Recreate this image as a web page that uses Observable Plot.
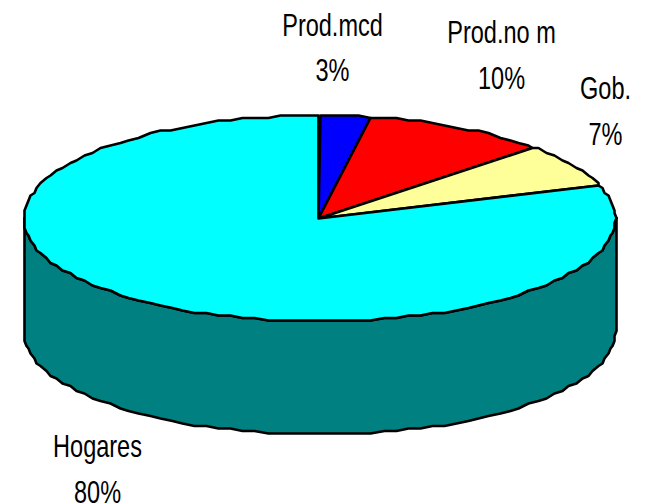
<!DOCTYPE html>
<html><head><meta charset="utf-8">
<script src="https://cdn.jsdelivr.net/npm/d3@7"></script>
<script src="https://cdn.jsdelivr.net/npm/@observablehq/plot@0.6"></script>
<style>html,body{margin:0;padding:0;background:#fff}svg{display:block}</style>
</head><body><div id="c"></div>
<script>
const categories = ["Prod.mcd", "Prod.no m", "Gob.", "Hogares"];
const shares = [2.8, 10, 6.9, 80.3];
const colors = ["#0000ff", "#ff0000", "#ffff99", "#00ffff"];
const sideColor = "#008080";

// layout of the tilted disc, in page units
const cx = 319, cy = 218, rx = 296, ry = 103, depth = 113;
const labelX = [332, 501, 605, 97];
const labelY = [43.5, 51, 107, 465];

const snap = (v, s) => Math.round(v / s) * s;
const pt = (t, dy = 0) => ({
  x: snap(cx + rx * Math.sin(t), 2),
  y: snap(cy - ry * Math.cos(t), 2.5) + dy
});
const step = Math.PI / 72;
function arc(a, b, dy = 0) {
  const out = [pt(a, dy)];
  const dir = b > a ? 1 : -1;
  let k = dir > 0 ? Math.floor(a / step + 1e-6) + 1 : Math.ceil(a / step - 1e-6) - 1;
  while (dir > 0 ? k * step < b - 1e-6 : k * step > b + 1e-6) { out.push(pt(k * step, dy)); k += dir; }
  out.push(pt(b, dy));
  return out;
}

let cum = 0;
const slicePts = [];
shares.forEach((v, i) => {
  const a = cum / 100 * 2 * Math.PI; cum += v;
  const b = cum / 100 * 2 * Math.PI;
  const c = {x: 318, y: cy};
  [c, ...arc(a, b), c].forEach(p => slicePts.push({...p, slice: categories[i]}));
});

const PI = Math.PI;
const sidePts = [
  ...arc(PI / 2, 3 * PI / 2),
  ...arc(3 * PI / 2, PI / 2, depth)
];
sidePts.push(sidePts[0]);

const labels = categories.map((c, i) => ({
  text: `${c}\n${Math.round(shares[i])}%`, x: labelX[i], y: labelY[i]
}));

const chart = Plot.plot({
  width: 646, height: 504,
  margin: 0,
  x: {domain: [0, 646], range: [0, 646], axis: null},
  y: {domain: [0, 504], range: [0, 504], axis: null},
  color: {domain: categories, range: colors},
  style: {background: "#fff", overflow: "visible"},
  marks: [
    Plot.line(sidePts, {x: "x", y: "y", fill: sideColor, stroke: "#000", strokeWidth: 2.6, strokeLinejoin: "round"}),
    Plot.line(slicePts, {x: "x", y: "y", z: "slice", fill: "slice", stroke: "#000", strokeWidth: 2.6, strokeLinejoin: "round"}),
    Plot.text(labels, {x: "x", y: "y", text: "text", fontSize: 32, lineHeight: 1.42,
      fontFamily: "'Liberation Sans',Arial,sans-serif", fill: "#000", textAnchor: "middle"})
  ]
});
document.getElementById("c").appendChild(chart);
// the reference's type is a condensed face: narrow the real text in place
chart.querySelectorAll("text tspan").forEach(t => {
  const w = t.getComputedTextLength();
  t.setAttribute("textLength", (w * 0.735).toFixed(1));
  t.setAttribute("lengthAdjust", "spacingAndGlyphs");
});
</script></body></html>
